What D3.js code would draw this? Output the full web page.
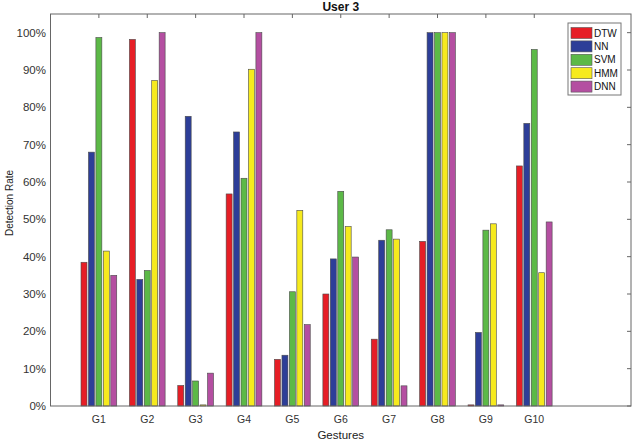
<!DOCTYPE html>
<html><head><meta charset="utf-8">
<script src="https://cdn.jsdelivr.net/npm/d3@7"></script>
<style>body{margin:0;background:#fff}text{font-family:"Liberation Sans",Arial,sans-serif}</style>
</head><body><svg id="c" width="634" height="442"></svg>
<script>
const gestures = ["G1","G2","G3","G4","G5","G6","G7","G8","G9","G10"];
const methods = ["DTW","NN","SVM","HMM","DNN"];
const DTW = [38.5, 98.2, 5.5, 56.8, 12.5, 30.0, 17.9, 44.1, 0.3, 64.3];
const NN  = [68.0, 33.9, 77.6, 73.4, 13.6, 39.4, 44.4, 100, 19.7, 75.7];
const SVM = [98.7, 36.3, 6.7, 61.0, 30.6, 57.5, 47.2, 100, 47.1, 95.5];
const HMM = [41.5, 87.2, 0.3, 90.2, 52.4, 48.1, 44.7, 100, 48.8, 35.7];
const DNN = [35.0, 100, 8.8, 100, 21.8, 39.9, 5.4, 100, 0.3, 49.3];
const seriesVals = [DTW, NN, SVM, HMM, DNN];
const colors = ["#e61e26", "#2d3e98", "#5cb947", "#f6ea1e", "#b44fa1"];
const yTicks = [0,10,20,30,40,50,60,70,80,90,100];

const svg = d3.select("#c");
const L = 50.5, R = 631, T = 14, B = 406;
const x = d3.scaleLinear().domain([0, 12]).range([L, R]);
const y = d3.scaleLinear().domain([0, 105]).range([B, T]);
const groupW = Math.min(0.8, 5 / (5 + 1.5));
const pitch = groupW / 5;
const barW = pitch * 0.8;

// bars
seriesVals.forEach((vals, j) => {
  svg.append("g").selectAll("rect").data(vals).join("rect")
    .attr("x", (d, i) => x(i + 1 + (j - 2) * pitch - barW / 2))
    .attr("width", x(barW) - x(0))
    .attr("y", d => y(d))
    .attr("height", d => y(0) - y(d))
    .attr("fill", colors[j])
    .attr("stroke", "#4a4a4a").attr("stroke-width", 0.6);
});

// frame
svg.append("rect").attr("x", L).attr("y", T).attr("width", R - L).attr("height", B - T)
  .attr("fill", "none").attr("stroke", "#666").attr("stroke-width", 1);

// top ticks
svg.append("g").selectAll("line").data(d3.range(1, 11)).join("line")
  .attr("x1", d => x(d)).attr("x2", d => x(d)).attr("y1", T).attr("y2", T + 4)
  .attr("stroke", "#666");
// right ticks
svg.append("g").selectAll("line").data(yTicks).join("line")
  .attr("x1", R).attr("x2", R - 4).attr("y1", d => y(d)).attr("y2", d => y(d))
  .attr("stroke", "#666");

// y tick labels
svg.append("g").selectAll("text").data(yTicks).join("text")
  .attr("x", 46).attr("y", d => y(d)).attr("dy", "0.36em")
  .attr("text-anchor", "end").attr("font-size", 11.5).attr("fill", "#333")
  .text(d => d + "%");
// x tick labels
svg.append("g").selectAll("text").data(gestures).join("text")
  .attr("x", (d, i) => x(i + 1)).attr("y", 423)
  .attr("text-anchor", "middle").attr("font-size", 10.5).attr("fill", "#333")
  .text(d => d);

// axis labels
svg.append("text").attr("x", (L + R) / 2).attr("y", 439).attr("text-anchor", "middle")
  .attr("font-size", 11.5).attr("fill", "#222").text("Gestures");
svg.append("text").attr("transform", "translate(13,203) rotate(-90)")
  .attr("text-anchor", "middle").attr("font-size", 10).attr("fill", "#222").text("Detection Rate");
// title
svg.append("text").attr("x", (L + R) / 2).attr("y", 11).attr("text-anchor", "middle")
  .attr("font-size", 12).attr("font-weight", "bold").attr("fill", "#111").text("User 3");

// legend
const lg = svg.append("g");
lg.append("rect").attr("x", 568).attr("y", 23).attr("width", 53).attr("height", 72)
  .attr("fill", "#fff").attr("stroke", "#777").attr("stroke-width", 1);
methods.forEach((m, j) => {
  const cy = 33 + j * 13.4;
  lg.append("rect").attr("x", 571).attr("y", cy - 5.5).attr("width", 21).attr("height", 11)
    .attr("fill", colors[j]).attr("stroke", "#555").attr("stroke-width", 0.6);
  lg.append("text").attr("x", 594).attr("y", cy).attr("dy", "0.36em")
    .attr("font-size", 10).attr("fill", "#111").text(m);
});
</script></body></html>
